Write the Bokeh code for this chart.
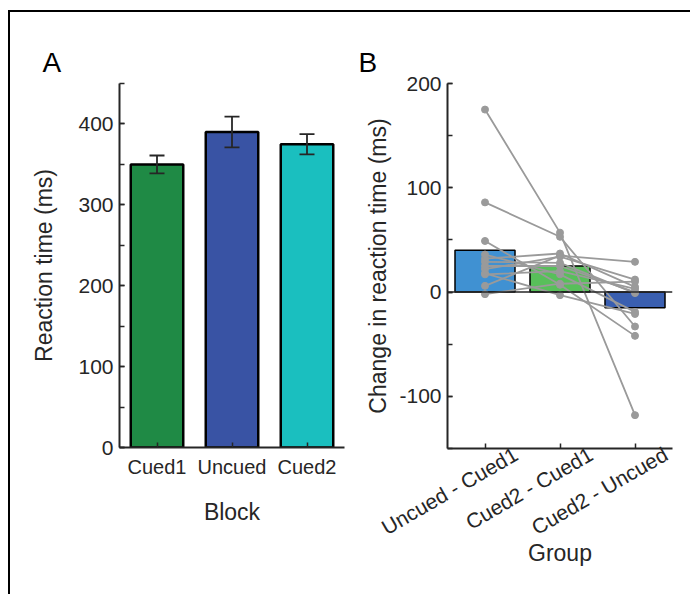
import math
from bokeh.plotting import figure
from bokeh.layouts import row
from bokeh.models import (FactorRange, Range1d, SingleIntervalTicker, Whisker,
                          ColumnDataSource, Span, TeeHead, LinearAxis, FixedTicker)
from bokeh.embed import file_html
from bokeh.resources import INLINE

# ---------------- data ----------------
blocks = ["Cued1", "Uncued", "Cued2"]
rt_mean = [350, 390, 375]
rt_sem = [11, 19, 12.5]
block_colors = ["#1f8a45", "#3953a4", "#1abfbf"]

groups = ["Uncued - Cued1", "Cued2 - Cued1", "Cued2 - Uncued"]
diff_mean = [40, 25, -15]
group_colors = ["#4091d2", "#58bf5a", "#3a5fb0"]

# per-subject differences (Uncued-Cued1, Cued2-Cued1, Cued2-Uncued)
subj_uc = [175, 86, 49, 6, -2, 32, 22, 29, 25, 18, 36, 17]
subj_c2c1 = [57, 53, 7, 35, 8, 37, 34, 28, 25, -3, 17, 20]
subj_c2u = [-118, -33, -42, 29, 10, 5, 12, -1, 0, -21, -19, 3]

FONT = "Liberation Sans"
TXT = "#262626"


def style_axis(ax):
    ax.axis_line_color = TXT
    ax.axis_line_width = 2
    ax.major_tick_line_color = TXT
    ax.major_tick_line_width = 1.5
    ax.minor_tick_line_color = TXT
    ax.minor_tick_line_width = 1.5
    ax.major_tick_in = 5
    ax.major_tick_out = 0
    ax.minor_tick_in = 5
    ax.minor_tick_out = 0
    ax.major_label_text_font = FONT
    ax.major_label_text_font_size = "20px"
    ax.major_label_text_color = TXT
    ax.axis_label_text_font = FONT
    ax.axis_label_text_font_size = "23px"
    ax.axis_label_text_font_style = "normal"
    ax.axis_label_text_color = TXT


def style_fig(p):
    for ax in p.xaxis:
        style_axis(ax)
    style_axis(p.yaxis[0])
    p.yaxis.major_label_text_font_size = "21px"
    p.grid.visible = False
    p.outline_line_color = None
    p.title.text_font = FONT
    p.title.text_font_size = "28px"
    p.title.text_font_style = "normal"
    p.title.text_color = "black"
    p.title.align = "left"


# ---------------- panel A ----------------
pA = figure(x_range=FactorRange(factors=blocks, range_padding=0),
            y_range=Range1d(0, 450),
            frame_width=225, frame_height=364,
            min_border_left=109, min_border_right=6,
            min_border_top=71, min_border_bottom=147,
            title="A",
            output_backend="svg", toolbar_location=None)
pA.yaxis.ticker = SingleIntervalTicker(interval=100, num_minor_ticks=2)
style_fig(pA)
pA.title.offset = -77
pA.title.standoff = 12
pA.xaxis.axis_label = "Block"
pA.yaxis.axis_label = "Reaction time (ms)"
pA.xaxis.major_label_standoff = 8
pA.xaxis.axis_label_standoff = 18
pA.yaxis.major_label_standoff = 6
pA.yaxis.axis_label_standoff = 18

srcA = ColumnDataSource(dict(x=blocks, top=rt_mean, color=block_colors,
                             lo=[m - s for m, s in zip(rt_mean, rt_sem)],
                             hi=[m + s for m, s in zip(rt_mean, rt_sem)]))
pA.vbar(x="x", top="top", bottom=0, width=0.7, fill_color="color",
        line_color="black", line_width=2.5, source=srcA)
pA.add_layout(Whisker(base="x", lower="lo", upper="hi", source=srcA,
                      level="overlay",
                      line_color=TXT, line_width=1.8,
                      upper_head=TeeHead(size=15, line_color=TXT, line_width=1.8),
                      lower_head=TeeHead(size=15, line_color=TXT, line_width=1.8)))

# ---------------- panel B ----------------
gx = list(range(1, len(groups) + 1))   # numeric positions of the groups
shift = 0.41                           # rotated labels sit right of their ticks
pB = figure(x_range=Range1d(0.5 - shift, len(groups) + 0.5 - shift),
            y_range=Range1d(-150, 200),
            frame_width=225, frame_height=365,
            min_border_left=97, min_border_right=18,
            min_border_top=70, min_border_bottom=147,
            title="B", x_axis_location=None,
            output_backend="svg", toolbar_location=None)
# data drawn on an unshifted range
pB.extra_x_ranges = {"data": Range1d(0.5, len(groups) + 0.5)}
pB.yaxis.ticker = SingleIntervalTicker(interval=100, num_minor_ticks=2)

lab_axis = LinearAxis(ticker=FixedTicker(ticks=gx,
                                         minor_ticks=[g - shift for g in gx]),
                      major_label_overrides={i: g for i, g in zip(gx, groups)})
pB.add_layout(lab_axis, "below")
style_fig(pB)
pB.title.offset = -89
pB.title.standoff = 12
pB.yaxis.axis_label = "Change in reaction time (ms)"
pB.yaxis.major_label_standoff = 6
pB.yaxis.axis_label_standoff = 5
pB.yaxis.major_label_overrides = {-100: "-100"}

lab_axis.major_tick_line_color = None
lab_axis.major_label_text_font_size = "21px"
lab_axis.major_label_orientation = math.pi / 6
lab_axis.major_label_standoff = 4
lab_axis.axis_label = "Group"
lab_axis.axis_label_standoff = -12

srcB = ColumnDataSource(dict(x=gx, top=diff_mean, color=group_colors))
pB.vbar(x="x", top="top", bottom=0, width=0.8, fill_color="color",
        line_color="black", line_width=1.5, source=srcB, x_range_name="data")
pB.add_layout(Span(location=0, dimension="width", line_color=TXT, line_width=1.5))

for a, b, c in zip(subj_uc, subj_c2c1, subj_c2u):
    pB.line(x=gx, y=[a, b, c], line_color="#9a9a9a", line_width=1.8,
            x_range_name="data")
    pB.scatter(x=gx, y=[a, b, c], size=7, fill_color="#9a9a9a",
               line_color="#9a9a9a", x_range_name="data")

layout = row(pA, pB, styles={"border-top": "2px solid black",
                             "border-left": "2px solid black",
                             "margin-top": "10px",
                             "margin-left": "8px"})

open("out.html", "w").write(file_html(layout, INLINE))
